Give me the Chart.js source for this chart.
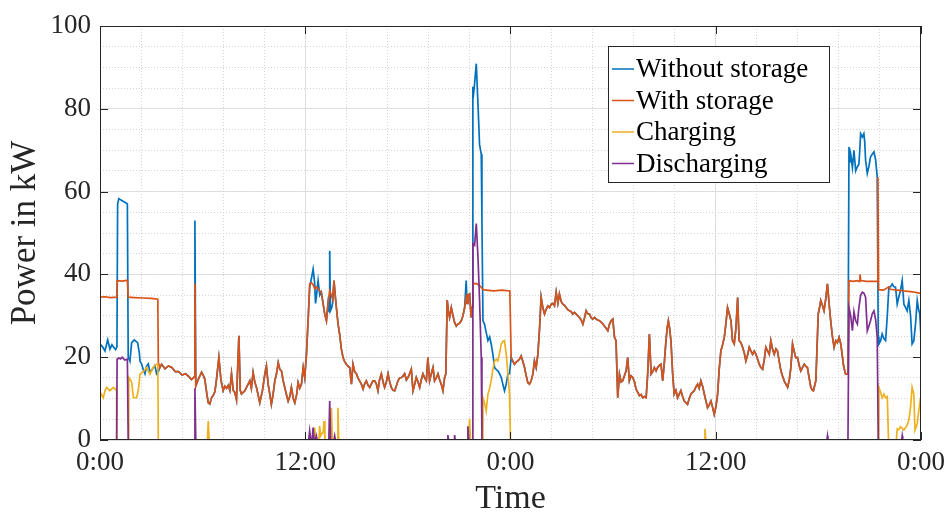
<!DOCTYPE html>
<html>
<head>
<meta charset="utf-8">
<script src="https://cdn.jsdelivr.net/npm/chart.js@4.4.1/dist/chart.umd.min.js"></script>
<style>
  html, body { margin: 0; padding: 0; background: #fff; }
  #wrap { width: 952px; height: 516px; }
</style>
</head>
<body>
<div id="wrap"><canvas id="grafico"></canvas></div>
<script>
// [hour, kW] pairs, hour 0..48 (two days)
const withoutStorage = [
  [0,23.2],[0.15,22.5],[0.29,21.5],[0.45,24.2],[0.58,22],[0.7,23],[0.78,22.5],[0.91,21.8],[0.99,22.5],
  [1.03,57],[1.1,58.3],[1.2,58],[1.3,57.8],[1.5,57.3],[1.6,57],[1.65,20],[1.75,19],[1.85,23.5],[2.0,24.2],
  [2.2,23.5],[2.3,21],[2.34,19],[2.43,18.4],[2.53,17],[2.63,16],[2.72,17.8],[2.82,18.4],[2.92,16.5],[3.02,16.8],
  [3.12,17.5],[3.21,18],[3.31,16],[3.41,16.5],[3.5,17.5],[3.6,18.3],[3.8,17.2],[4.0,17.9],[4.2,17.5],[4.4,16.5],
  [4.6,16.5],[4.8,15.7],[5.0,16],[5.2,15.3],[5.35,14.6],[5.5,15.2],[5.55,53],[5.6,13],[5.74,14.6],[5.94,16.4],
  [6.05,15.5],[6.13,14.6],[6.25,11],[6.33,9],[6.42,8.7],[6.52,10.2],[6.62,10.8],[6.72,11.7],[6.81,14.6],[6.95,19.9],
  [7.07,14.6],[7.2,11.9],[7.3,13],[7.4,12.5],[7.5,13.2],[7.59,12],[7.69,16],[7.79,12],[7.88,11.5],[7.98,9.7],
  [8.12,25.2],[8.2,12],[8.27,11.1],[8.37,11.5],[8.47,11.9],[8.6,13],[8.76,14.3],[8.85,12.5],[8.95,16.3],[9.05,14],
  [9.15,12.7],[9.34,9],[9.5,12],[9.64,16],[9.73,17.9],[9.83,13.5],[9.93,11],[10.02,8.6],[10.12,11],[10.22,14.3],
  [10.32,16],[10.42,18.7],[10.52,17],[10.61,16.7],[10.7,14.5],[10.8,12.7],[10.9,11],[11.0,9.4],[11.1,10.5],[11.19,12.7],
  [11.3,10],[11.39,9],[11.5,11],[11.58,13.9],[11.68,12.5],[11.78,13.5],[11.88,17.5],[11.97,15.1],[12.07,20.7],
  [12.18,30],[12.26,37],[12.36,39],[12.46,41.3],[12.55,38],[12.6,33],[12.65,34.5],[12.75,38.5],[12.85,35],[12.94,35.7],
  [13.04,33],[13.14,30.4],[13.24,28.8],[13.33,33],[13.4,31],[13.43,45.7],[13.47,31.2],[13.55,32],[13.6,33],[13.68,38.5],
  [13.75,35],[13.82,32],[13.92,28],[14.01,25.6],[14.11,22],[14.21,19.9],[14.3,19],[14.4,18.3],[14.5,17.8],[14.6,17.5],
  [14.7,13.5],[14.79,18.3],[14.89,16.5],[14.99,16],[15.08,15],[15.18,14.3],[15.28,13.5],[15.38,12.3],[15.47,13.5],[15.57,14.3],
  [15.67,13.2],[15.77,12.7],[15.86,13.5],[15.96,14.3],[16.06,14.3],[16.16,13.5],[16.25,11.9],[16.35,14.7],[16.45,16],[16.55,14],
  [16.64,12.7],[16.74,14],[16.84,16],[16.94,14],[17.03,12.7],[17.13,12],[17.23,11.9],[17.32,13],[17.42,14.3],[17.52,15],
  [17.62,15.1],[17.72,15.5],[17.81,16],[17.91,14.5],[18.0,15.1],[18.1,16],[18.2,17.1],[18.3,11.9],[18.4,13.5],[18.49,15.1],
  [18.59,14],[18.69,12.7],[18.78,14.5],[18.88,16],[18.98,15],[19.08,14.3],[19.17,19.9],[19.27,14.3],[19.37,16],[19.47,17.5],
  [19.56,14.3],[19.66,15],[19.76,16],[19.86,14.5],[19.95,13.5],[20.05,11.9],[20.15,15.1],[20.22,16],[20.3,33.8],[20.37,31],
  [20.44,29.6],[20.54,32],[20.64,30],[20.73,28.4],[20.83,27.5],[20.93,28],[21.02,28.2],[21.12,28.8],[21.22,30],[21.32,32],
  [21.41,38.5],[21.46,33],[21.51,35],[21.61,35.3],[21.7,29.6],[21.76,32],[21.8,85.3],[21.85,84],[21.9,86],[22.0,90.9],
  [22.1,81],[22.19,71.4],[22.29,69],[22.33,53],[22.39,28.8],[22.48,28],[22.58,26],[22.68,24],[22.78,24.9],[22.88,23],
  [22.97,20.7],[23.07,17.5],[23.17,17],[23.26,16.7],[23.36,16],[23.46,15.1],[23.55,13.5],[23.65,11.9],[23.75,13.5],[23.85,16],
  [23.94,16],[24.04,19.9],[24.14,19],[24.23,18.3],[24.33,18.8],[24.43,19.1],[24.52,19.5],[24.62,20.3],[24.72,19],[24.82,17.5],
  [24.92,15.5],[25.01,13.9],[25.11,13.5],[25.21,14.3],[25.31,16],[25.4,19.1],[25.5,17.5],[25.6,20.7],[25.7,27],[25.79,34.5],
  [25.89,32],[25.99,30.4],[26.08,31.5],[26.18,32.4],[26.28,32],[26.38,32.8],[26.48,33],[26.57,32.4],[26.67,35.7],[26.77,33],
  [26.86,35.3],[26.96,33.5],[27.06,32.8],[27.16,32.5],[27.25,32],[27.35,31.5],[27.45,31.2],[27.55,31],[27.64,30.4],[27.74,30.8],
  [27.84,30.4],[27.94,30],[28.03,29.6],[28.13,29],[28.23,28],[28.33,29.5],[28.42,31.2],[28.52,30.5],[28.62,30.4],[28.72,29.5],
  [28.81,29.2],[28.91,29.6],[29.01,29.2],[29.1,29],[29.2,28.8],[29.3,28.5],[29.4,28],[29.5,27.5],[29.59,27],[29.69,26.4],
  [29.79,28],[29.88,28.8],[29.98,29.2],[30.08,24.8],[30.17,24],[30.27,10.2],[30.37,15.9],[30.47,14],[30.56,14.3],[30.66,15.5],
  [30.76,16.7],[30.85,19.9],[30.95,14.3],[31.05,15.5],[31.15,15.1],[31.25,14],[31.34,12.3],[31.44,11.5],[31.54,10.7],[31.64,11],
  [31.73,10.2],[31.83,10.5],[31.93,10.2],[32.02,15.9],[32.12,25.6],[32.22,15.9],[32.32,16.5],[32.41,17.5],[32.51,16.7],[32.6,17.5],
  [32.7,18],[32.8,18.3],[32.9,14.3],[33.0,19],[33.09,24],[33.16,27],[33.23,28.8],[33.3,27],[33.38,24],[33.48,16],
  [33.57,11.1],[33.67,12],[33.77,10.2],[33.86,11],[33.96,11.9],[34.06,10.5],[34.16,9.4],[34.26,9],[34.35,8.6],[34.45,10],
  [34.55,11.1],[34.64,11.5],[34.74,11.9],[34.84,12.8],[34.94,13.5],[35.03,12.5],[35.13,14.3],[35.23,13],[35.33,11.1],[35.42,9.5],
  [35.52,7.8],[35.62,8.5],[35.72,9.4],[35.81,8],[35.91,6.2],[36.01,8],[36.11,11.1],[36.2,17],[36.3,21.5],[36.4,23],
  [36.5,24.8],[36.59,28],[36.69,32],[36.79,30.5],[36.89,28.8],[36.98,24],[37.08,23.2],[37.18,27],[37.28,34.4],[37.33,28],
  [37.37,24],[37.47,23.5],[37.57,22.4],[37.67,21],[37.76,19.1],[37.86,20.5],[37.96,22.4],[38.06,21.5],[38.15,20.7],[38.25,21.5],
  [38.35,20.7],[38.45,19.5],[38.54,18.3],[38.64,17.5],[38.74,17.1],[38.84,19.5],[38.93,22.4],[39.03,21.5],[39.13,20.7],[39.22,24],
  [39.32,22],[39.42,20.7],[39.52,22],[39.61,21.5],[39.71,19],[39.81,16.7],[39.9,15.5],[40.0,14.3],[40.1,13.5],[40.2,12.7],
  [40.3,14.5],[40.39,17.5],[40.49,23.2],[40.58,21.5],[40.68,19.9],[40.78,19.9],[40.88,18],[40.97,16.7],[41.07,17.5],[41.17,18.3],
  [41.27,17.8],[41.36,17.5],[41.46,15],[41.56,12.7],[41.66,12],[41.71,11.9],[41.85,14.3],[41.92,22],[41.99,30.4],[42.07,32],
  [42.14,33.7],[42.24,32.5],[42.33,31.2],[42.43,34],[42.53,37.7],[42.63,32.8],[42.72,28.8],[42.82,25],[42.92,22.4],[43.02,24],
  [43.11,23.5],[43.21,24.8],[43.31,23.2],[43.38,21],[43.46,18.3],[43.55,16.5],[43.6,15.9],[43.73,15.9],
  [43.79,70.8],[43.84,67],[43.89,69],[43.99,65.8],[44.08,70],[44.18,65],[44.28,66],[44.37,66.6],[44.42,70],[44.47,74],
  [44.57,73.2],[44.66,74],[44.71,72],[44.76,67.6],[44.86,64.4],[44.95,66],[45.05,68.4],[45.15,69],[45.25,69.6],[45.35,67.6],
  [45.44,63.5],[45.5,25],[45.54,23.2],[45.64,24],[45.73,25.6],[45.83,24.5],[45.93,24],[46.03,30],[46.12,36.9],[46.22,37],
  [46.32,37.7],[46.42,37],[46.51,36.9],[46.61,32.8],[46.7,34.5],[46.8,36.1],[46.9,38.5],[47.0,32.8],[47.1,32],[47.19,31.2],
  [47.29,33.7],[47.39,30],[47.48,23.2],[47.58,24],[47.68,28],[47.78,33.7],[47.86,31.5],[47.93,30.4],[48.0,24.8]
];

const withStorage = [
  [0,34.5],[0.3,34.6],[0.6,34.4],[0.99,34.5],[1.0,38.5],[1.3,38.4],[1.6,38.6],[1.65,34.5],[2.0,34.4],[2.5,34.3],
  [3.0,34.2],[3.38,34.0],[3.41,18.7],[3.5,17.5],[3.6,18.3],[3.8,17.2],[4.0,17.9],[4.2,17.5],[4.4,16.5],[4.6,16.5],
  [4.8,15.7],[5.0,16],[5.2,15.3],[5.35,14.6],[5.5,15.2],[5.55,37.8],[5.6,13],[5.74,14.6],[5.94,16.4],
  [6.05,15.5],[6.13,14.6],[6.25,11],[6.33,9],[6.42,8.7],[6.52,10.2],[6.62,10.8],[6.72,11.7],[6.81,14.6],[6.95,19.9],
  [7.07,14.6],[7.2,11.9],[7.3,13],[7.4,12.5],[7.5,13.2],[7.59,12],[7.69,16],[7.79,12],[7.88,11.5],[7.98,9.7],
  [8.12,25.2],[8.2,12],[8.27,11.1],[8.37,11.5],[8.47,11.9],[8.6,13],[8.76,14.3],[8.85,12.5],[8.95,16.3],[9.05,14],
  [9.15,12.7],[9.34,9],[9.5,12],[9.64,16],[9.73,17.9],[9.83,13.5],[9.93,11],[10.02,8.6],[10.12,11],[10.22,14.3],
  [10.32,16],[10.42,18.7],[10.52,17],[10.61,16.7],[10.7,14.5],[10.8,12.7],[10.9,11],[11.0,9.4],[11.1,10.5],[11.19,12.7],
  [11.3,10],[11.39,9],[11.5,11],[11.58,13.9],[11.68,12.5],[11.78,13.5],[11.88,17.5],[11.97,15.1],[12.07,20.7],
  [12.18,30],[12.26,37.7],[12.36,38],[12.46,37.5],[12.55,36.5],[12.65,37],[12.75,36.5],[12.85,36],[12.94,35.7],
  [13.04,33],[13.14,30.4],[13.24,28.8],[13.33,33],[13.43,36],[13.5,35.3],[13.6,34],[13.68,38.5],
  [13.75,35],[13.82,32],[13.92,28],[14.01,25.6],[14.11,22],[14.21,19.9],[14.3,19],[14.4,18.3],[14.5,17.8],[14.6,17.5],
  [14.7,13.5],[14.79,18.3],[14.89,16.5],[14.99,16],[15.08,15],[15.18,14.3],[15.28,13.5],[15.38,12.3],[15.47,13.5],[15.57,14.3],
  [15.67,13.2],[15.77,12.7],[15.86,13.5],[15.96,14.3],[16.06,14.3],[16.16,13.5],[16.25,11.9],[16.35,14.7],[16.45,16],[16.55,14],
  [16.64,12.7],[16.74,14],[16.84,16],[16.94,14],[17.03,12.7],[17.13,12],[17.23,11.9],[17.32,13],[17.42,14.3],[17.52,15],
  [17.62,15.1],[17.72,15.5],[17.81,16],[17.91,14.5],[18.0,15.1],[18.1,16],[18.2,17.1],[18.3,11.9],[18.4,13.5],[18.49,15.1],
  [18.59,14],[18.69,12.7],[18.78,14.5],[18.88,16],[18.98,15],[19.08,14.3],[19.17,19.9],[19.27,14.3],[19.37,16],[19.47,17.5],
  [19.56,14.3],[19.66,15],[19.76,16],[19.86,14.5],[19.95,13.5],[20.05,11.9],[20.15,15.1],[20.22,16],[20.3,33.8],[20.37,31],
  [20.44,29.6],[20.54,32],[20.64,30],[20.73,28.4],[20.83,27.5],[20.93,28],[21.02,28.2],[21.12,28.8],[21.22,30],[21.32,32],
  [21.41,34.5],[21.46,33],[21.51,35],[21.61,35.3],[21.7,29.6],[21.76,32],[21.8,38],[21.9,37.7],[22.0,37.8],[22.2,37.3],
  [22.4,36.3],[22.6,36.2],[23.0,36],[23.5,36.2],[23.96,36],[24.04,19.9],[24.14,19],[24.23,18.3],[24.33,18.8],[24.43,19.1],
  [24.52,19.5],[24.62,20.3],[24.72,19],[24.82,17.5],
  [24.92,15.5],[25.01,13.9],[25.11,13.5],[25.21,14.3],[25.31,16],[25.4,19.1],[25.5,17.5],[25.6,20.7],[25.7,27],[25.79,34.5],
  [25.89,32],[25.99,30.4],[26.08,31.5],[26.18,32.4],[26.28,32],[26.38,32.8],[26.48,33],[26.57,32.4],[26.67,35.7],[26.77,33],
  [26.86,35.3],[26.96,33.5],[27.06,32.8],[27.16,32.5],[27.25,32],[27.35,31.5],[27.45,31.2],[27.55,31],[27.64,30.4],[27.74,30.8],
  [27.84,30.4],[27.94,30],[28.03,29.6],[28.13,29],[28.23,28],[28.33,29.5],[28.42,31.2],[28.52,30.5],[28.62,30.4],[28.72,29.5],
  [28.81,29.2],[28.91,29.6],[29.01,29.2],[29.1,29],[29.2,28.8],[29.3,28.5],[29.4,28],[29.5,27.5],[29.59,27],[29.69,26.4],
  [29.79,28],[29.88,28.8],[29.98,29.2],[30.08,24.8],[30.17,24],[30.27,10.2],[30.37,15.9],[30.47,14],[30.56,14.3],[30.66,15.5],
  [30.76,16.7],[30.85,19.9],[30.95,14.3],[31.05,15.5],[31.15,15.1],[31.25,14],[31.34,12.3],[31.44,11.5],[31.54,10.7],[31.64,11],
  [31.73,10.2],[31.83,10.5],[31.93,10.2],[32.02,15.9],[32.12,25.6],[32.22,15.9],[32.32,16.5],[32.41,17.5],[32.51,16.7],[32.6,17.5],
  [32.7,18],[32.8,18.3],[32.9,14.3],[33.0,19],[33.09,24],[33.16,27],[33.23,28.8],[33.3,27],[33.38,24],[33.48,16],
  [33.57,11.1],[33.67,12],[33.77,10.2],[33.86,11],[33.96,11.9],[34.06,10.5],[34.16,9.4],[34.26,9],[34.35,8.6],[34.45,10],
  [34.55,11.1],[34.64,11.5],[34.74,11.9],[34.84,12.8],[34.94,13.5],[35.03,12.5],[35.13,14.3],[35.23,13],[35.33,11.1],[35.42,9.5],
  [35.52,7.8],[35.62,8.5],[35.72,9.4],[35.81,8],[35.91,6.2],[36.01,8],[36.11,11.1],[36.2,17],[36.3,21.5],[36.4,23],
  [36.5,24.8],[36.59,28],[36.69,32],[36.79,30.5],[36.89,28.8],[36.98,24],[37.08,23.2],[37.18,27],[37.28,34.4],[37.33,28],
  [37.37,24],[37.47,23.5],[37.57,22.4],[37.67,21],[37.76,19.1],[37.86,20.5],[37.96,22.4],[38.06,21.5],[38.15,20.7],[38.25,21.5],
  [38.35,20.7],[38.45,19.5],[38.54,18.3],[38.64,17.5],[38.74,17.1],[38.84,19.5],[38.93,22.4],[39.03,21.5],[39.13,20.7],[39.22,24],
  [39.32,22],[39.42,20.7],[39.52,22],[39.61,21.5],[39.71,19],[39.81,16.7],[39.9,15.5],[40.0,14.3],[40.1,13.5],[40.2,12.7],
  [40.3,14.5],[40.39,17.5],[40.49,23.2],[40.58,21.5],[40.68,19.9],[40.78,19.9],[40.88,18],[40.97,16.7],[41.07,17.5],[41.17,18.3],
  [41.27,17.8],[41.36,17.5],[41.46,15],[41.56,12.7],[41.66,12],[41.71,11.9],[41.85,14.3],[41.92,22],[41.99,30.4],[42.07,32],
  [42.14,33.7],[42.24,32.5],[42.33,31.2],[42.43,34],[42.53,37.7],[42.63,32.8],[42.72,28.8],[42.82,25],[42.92,22.4],[43.02,24],
  [43.11,23.5],[43.21,24.8],[43.31,23.2],[43.38,21],[43.46,18.3],[43.55,16.5],[43.6,15.9],[43.73,15.9],
  [43.79,38.5],[44.0,38.3],[44.3,38.5],[44.38,38.3],[44.43,40],[44.48,38.5],[44.8,38.3],[45.1,38.3],[45.44,38.3],[45.48,63.5],
  [45.52,36.3],[45.8,36.2],[46.12,37],[46.2,36.4],[46.6,36.2],[47.0,36],[47.5,35.8],[48.0,35.4]
];

const charging = [
  [0,11.6],[0.19,10.2],[0.3,12],[0.39,12.7],[0.58,11.9],[0.78,12.7],[0.91,12.2],[0.97,12],[0.99,0],[1.65,0],
  [1.68,15.1],[1.85,14],[1.95,10.2],[2.14,10.2],[2.24,12],[2.34,15.9],[2.53,16.5],[2.73,17.5],[2.92,15.9],[3.1,17.5],
  [3.3,18.3],[3.38,18.3],[3.41,0],[6.28,0],[6.33,4.6],[6.38,0],[12.5,0],[12.55,3],[12.6,0],[12.8,0],
  [12.84,3.4],[12.9,1],[13.05,2],[13.1,4.6],[13.15,0],[13.48,0],[13.53,7.8],[13.58,0],[13.86,0],[13.91,7.8],
  [13.96,0],[21.56,0],[21.61,5.2],[21.66,0],[22.35,0],[22.39,10.2],[22.48,9],[22.58,7],[22.68,11.1],[22.78,12.5],
  [22.87,14.3],[22.97,17],[23.07,19.1],[23.17,19.5],[23.26,19.1],[23.36,21],[23.46,23.2],[23.55,23.8],[23.65,24],[23.75,20.7],
  [23.85,16],[23.94,11.1],[24.0,0],[35.32,0],[35.37,2.7],[35.42,0],[45.5,0],[45.54,12.7],[45.64,11.5],[45.73,10.2],
  [45.83,11.1],[45.93,10.2],[46.03,10.5],[46.1,0],[46.56,0],[46.61,2.7],[46.7,2.5],[46.8,3.2],[46.9,2.8],[47.0,2.4],
  [47.1,3],[47.19,3.6],[47.29,4.8],[47.39,8],[47.48,12.7],[47.58,11.1],[47.65,2.4],[47.78,4],[47.87,7],[47.97,10.2],
  [48.0,10.2]
];

const discharging = [
  [0,0],[0.97,0],[1.0,19.5],[1.1,19.8],[1.2,19.6],[1.3,20],[1.45,19.3],[1.6,19.5],[1.65,0],[5.5,0],
  [5.55,12.5],[5.6,0],[12.2,0],[12.26,2.2],[12.32,0],[12.4,0],[12.46,3],[12.52,0],[12.6,0],[12.65,1],
  [12.7,0],[13.38,0],[13.43,9.4],[13.48,0],[13.68,0],[13.72,1],[13.76,0],[20.3,0],[20.34,1.2],[20.38,0],
  [20.7,0],[20.73,1.2],[20.77,0],[21.46,0],[21.51,3.3],[21.56,0],[21.76,0],[21.8,47.4],[21.9,47],[22.0,52.3],
  [22.1,44],[22.19,34],[22.29,20],[22.33,0],[42.5,0],[42.53,1],[42.56,0],[43.73,0],[43.79,32],[43.89,30],
  [43.99,26.4],[44.08,31],[44.18,28.8],[44.28,28],[44.37,32],[44.47,35],[44.57,35.7],[44.66,35.5],[44.76,34.5],[44.86,26.4],
  [44.95,27.5],[45.05,28.8],[45.15,30.5],[45.25,31.2],[45.35,29],[45.44,24.8],[45.5,0],[46.87,0],[46.9,1],[46.93,0],
  [48,0]
];

const seriesNames = ['Without storage', 'With storage', 'Charging', 'Discharging'];
const seriesColors = ['#0072BD', '#D95319', '#EDB120', '#7E2F8E'];
const xTicks = [0, 12, 24, 36, 48];
const yTicks = [0, 20, 40, 60, 80, 100];

const serif = "'Liberation Serif', 'DejaVu Serif', serif";
const axisColor = '#262626';

const pontos = (arr) => arr.map(p => ({ x: p[0], y: p[1] }));

// frame + inward tick marks like matlab
const moldura = {
    id: 'moldura',
    afterDatasetsDraw(chart) {
        const { ctx, chartArea: a, scales } = chart;
        ctx.save();
        ctx.strokeStyle = axisColor;
        ctx.lineWidth = 1;
        ctx.strokeRect(a.left + 0.5, a.top + 0.5, a.right - a.left - 1, a.bottom - a.top - 1);
        ctx.beginPath();
        yTicks.forEach(v => {
            const y = Math.round(scales.y.getPixelForValue(v)) + 0.5;
            ctx.moveTo(a.left, y); ctx.lineTo(a.left + 8, y);
            ctx.moveTo(a.right, y); ctx.lineTo(a.right - 8, y);
        });
        xTicks.forEach(v => {
            const x = Math.round(scales.x.getPixelForValue(v)) + 0.5;
            ctx.moveTo(x, a.bottom); ctx.lineTo(x, a.bottom - 8);
            ctx.moveTo(x, a.top); ctx.lineTo(x, a.top + 8);
        });
        ctx.stroke();
        ctx.restore();
    }
};

const legenda = {
    id: 'legenda',
    afterDraw(chart) {
        const ctx = chart.ctx;
        const bx = 608.5, by = 46.5, bw = 221, bh = 136;
        ctx.save();
        ctx.fillStyle = '#fff';
        ctx.fillRect(bx, by, bw, bh);
        ctx.strokeStyle = axisColor;
        ctx.lineWidth = 1;
        ctx.strokeRect(bx, by, bw, bh);
        ctx.font = '27px ' + serif;
        ctx.textBaseline = 'middle';
        ctx.textAlign = 'left';
        seriesNames.forEach((nome, i) => {
            const y = 69 + i * 31.5;
            ctx.strokeStyle = seriesColors[i];
            ctx.lineWidth = 1.5;
            ctx.beginPath();
            ctx.moveTo(612, y); ctx.lineTo(634, y);
            ctx.stroke();
            ctx.fillStyle = '#000';
            ctx.fillText(nome, 636, y + 1);
        });
        ctx.restore();
    }
};

const grafico = document.getElementById('grafico');

new Chart(grafico, {
    type: 'line',
    data: {
        datasets: [withoutStorage, withStorage, charging, discharging].map((s, i) => ({
            label: seriesNames[i],
            data: pontos(s),
            borderColor: seriesColors[i],
            backgroundColor: seriesColors[i],
            borderWidth: 1.7,
            pointRadius: 0,
            tension: 0,
            order: 4 - i
        }))
    },
    options: {
        responsive: true,
        maintainAspectRatio: false,
        animation: false,
        parsing: false,
        layout: { padding: { top: 26, right: 30, left: 0, bottom: 0 } },
        plugins: {
            legend: { display: false },
            tooltip: { enabled: false }
        },
        scales: {
            x: {
                type: 'linear',
                min: 0,
                max: 48,
                afterBuildTicks: (s) => { s.ticks = xTicks.map(v => ({ value: v })); },
                ticks: {
                    callback: (v) => (v % 24) + ':00',
                    font: { family: serif, size: 27 },
                    color: axisColor,
                    padding: 7,
                    maxRotation: 0,
                    autoSkip: false
                },
                grid: { color: '#e2e2e2', drawTicks: false },
                border: { display: false },
                title: {
                    display: true,
                    text: 'Time',
                    font: { family: serif, size: 34, lineHeight: 1 },
                    color: axisColor,
                    padding: { top: 0, bottom: 0 }
                },
                afterFit: (s) => { s.height = 76; }
            },
            xMinor: {
                type: 'linear',
                position: 'bottom',
                min: 0,
                max: 48,
                ticks: { display: false, stepSize: 2.4 },
                grid: { color: '#d4d4d4', drawTicks: false },
                border: { display: false, dash: [1, 2] },
                afterFit: (s) => { s.height = 0; }
            },
            y: {
                type: 'linear',
                min: 0,
                max: 100,
                afterBuildTicks: (s) => { s.ticks = yTicks.map(v => ({ value: v })); },
                ticks: {
                    font: { family: serif, size: 27 },
                    color: axisColor,
                    padding: 9
                },
                grid: { color: '#e2e2e2', drawTicks: false },
                border: { display: false },
                title: {
                    display: true,
                    text: 'Power in kW',
                    font: { family: serif, size: 35, lineHeight: 1 },
                    color: axisColor,
                    padding: { top: 8, bottom: 0 }
                },
                afterFit: (s) => { s.width = 100; }
            },
            yMinor: {
                type: 'linear',
                position: 'left',
                min: 0,
                max: 100,
                ticks: { display: false, stepSize: 5 },
                grid: { color: '#d4d4d4', drawTicks: false },
                border: { display: false, dash: [1, 2] },
                afterFit: (s) => { s.width = 0; }
            }
        }
    },
    plugins: [moldura, legenda]
});
</script>
</body>
</html>
